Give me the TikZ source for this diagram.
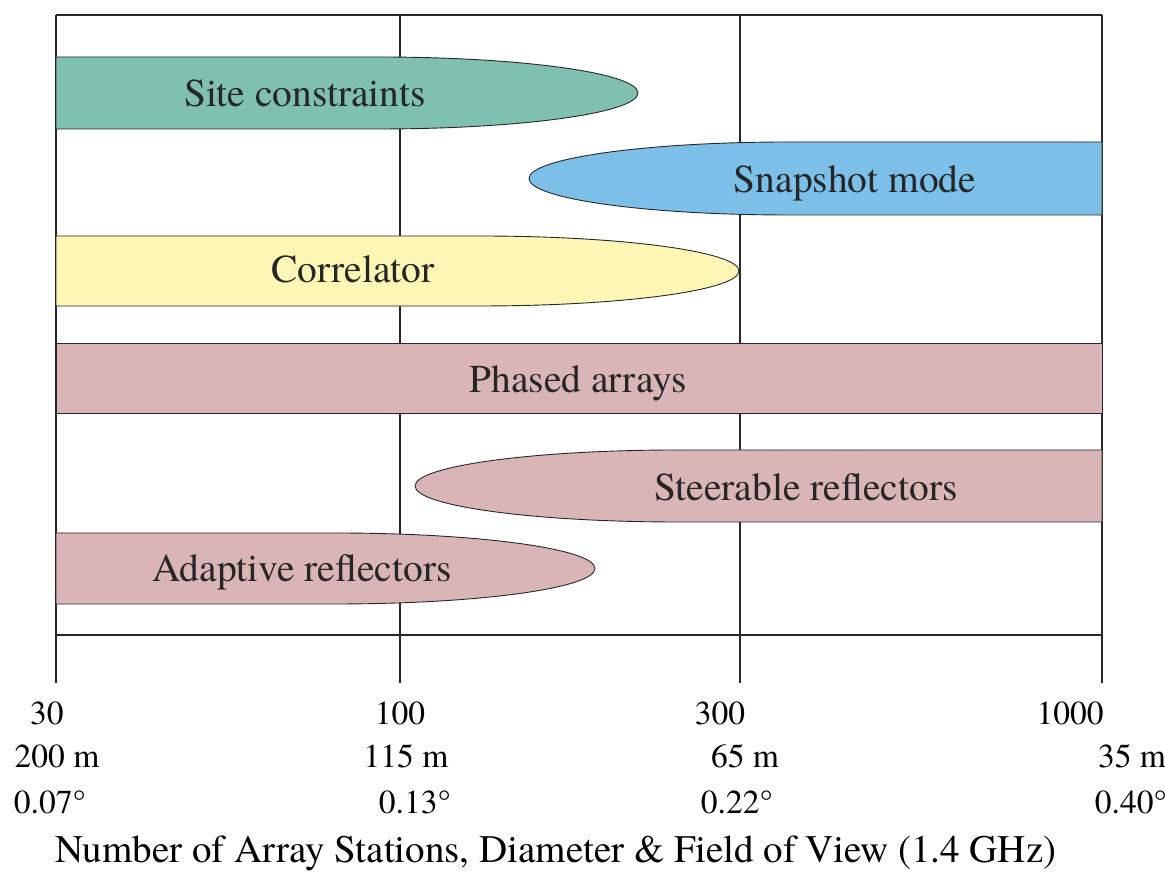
\documentclass[tikz,border=0pt]{standalone}
\usepackage{fontspec}
\setmainfont{texgyretermes}[Extension=.otf, UprightFont=*-regular, BoldFont=*-bold, ItalicFont=*-italic, BoldItalicFont=*-bolditalic]
\definecolor{siteC}{RGB}{127,192,176}
\definecolor{snapC}{RGB}{124,192,234}
\definecolor{corrC}{RGB}{253,246,180}
\definecolor{reflC}{RGB}{218,181,184}
\definecolor{lineC}{RGB}{40,40,40}
\tikzset{
  grid/.style={draw=lineC, line width=1.3pt},
  band/.style={draw=lineC, line width=0.9pt},
  bandlabel/.style={anchor=base, inner sep=0pt, text=black!85, font=\fontsize{39.5}{40}\selectfont},
  ticklabel/.style={anchor=base, inner sep=0pt, font=\fontsize{33.5}{34}\selectfont},
  titlelabel/.style={anchor=base, inner sep=0pt, font=\fontsize{39}{40}\selectfont},
}
\begin{document}
\begin{tikzpicture}[x=1pt, y=1pt]
\useasboundingbox[fill=white] (0,0) rectangle (1165,877);
% grid
\draw[grid] (56,862) -- (1102,862);
\draw[grid] (56,242) -- (1102,242);
\foreach \gx in {56,400,740,1102} \draw[grid] (\gx,862) -- (\gx,194);
% bands
\path[band, fill=siteC] (56,820) -- (378,820) arc[start angle=90, end angle=-90, x radius=260, y radius=36] -- (56,748) -- cycle;
\path[band, fill=snapC] (1102,735) -- (789,735) arc[start angle=90, end angle=270, x radius=260, y radius=36.5] -- (1102,662) -- cycle;
\path[band, fill=corrC] (56,641) -- (479,641) arc[start angle=90, end angle=-90, x radius=260, y radius=35] -- (56,571) -- cycle;
\path[band, fill=reflC] (56,534) rectangle (1102,464);
\path[band, fill=reflC] (1102,427) -- (678,427) arc[start angle=90, end angle=270, x radius=263, y radius=36] -- (1102,355) -- cycle;
\path[band, fill=reflC] (56,344) -- (335,344) arc[start angle=90, end angle=-90, x radius=260, y radius=35.5] -- (56,273) -- cycle;
% band labels
\node[bandlabel] (site) at (305,770) {Site constraints};
\node[bandlabel] (snap) at (855,684) {Snapshot mode};
\node[bandlabel] (corr) at (353,594) {Correlator};
\node[bandlabel] (phas) at (578,484) {Phased arrays};
\node[bandlabel] (steer) at (806,376) {Steerable reflectors};
\node[bandlabel] (adapt) at (302,295) {Adaptive reflectors};
% tick labels
\node[ticklabel] (n30) at (47,152) {30};
\node[ticklabel] (n100) at (400,152) {100};
\node[ticklabel] (n300) at (720,152) {300};
\node[ticklabel] (n1000) at (1070,152) {1000};
\node[ticklabel] (d200) at (57,109) {200 m};
\node[ticklabel] (d115) at (406,109) {115 m};
\node[ticklabel] (d65) at (745,109) {65 m};
\node[ticklabel] (d35) at (1132,109) {35 m};
\node[ticklabel] (f007) at (50,63) {0.07°};
\node[ticklabel] (f013) at (415,63) {0.13°};
\node[ticklabel] (f022) at (737,63) {0.22°};
\node[ticklabel] (f040) at (1131,63) {0.40°};
\node[titlelabel] (title) at (556,14) {Number of Array Stations, Diameter \& Field of View (1.4 GHz)};
\end{tikzpicture}
\end{document}
